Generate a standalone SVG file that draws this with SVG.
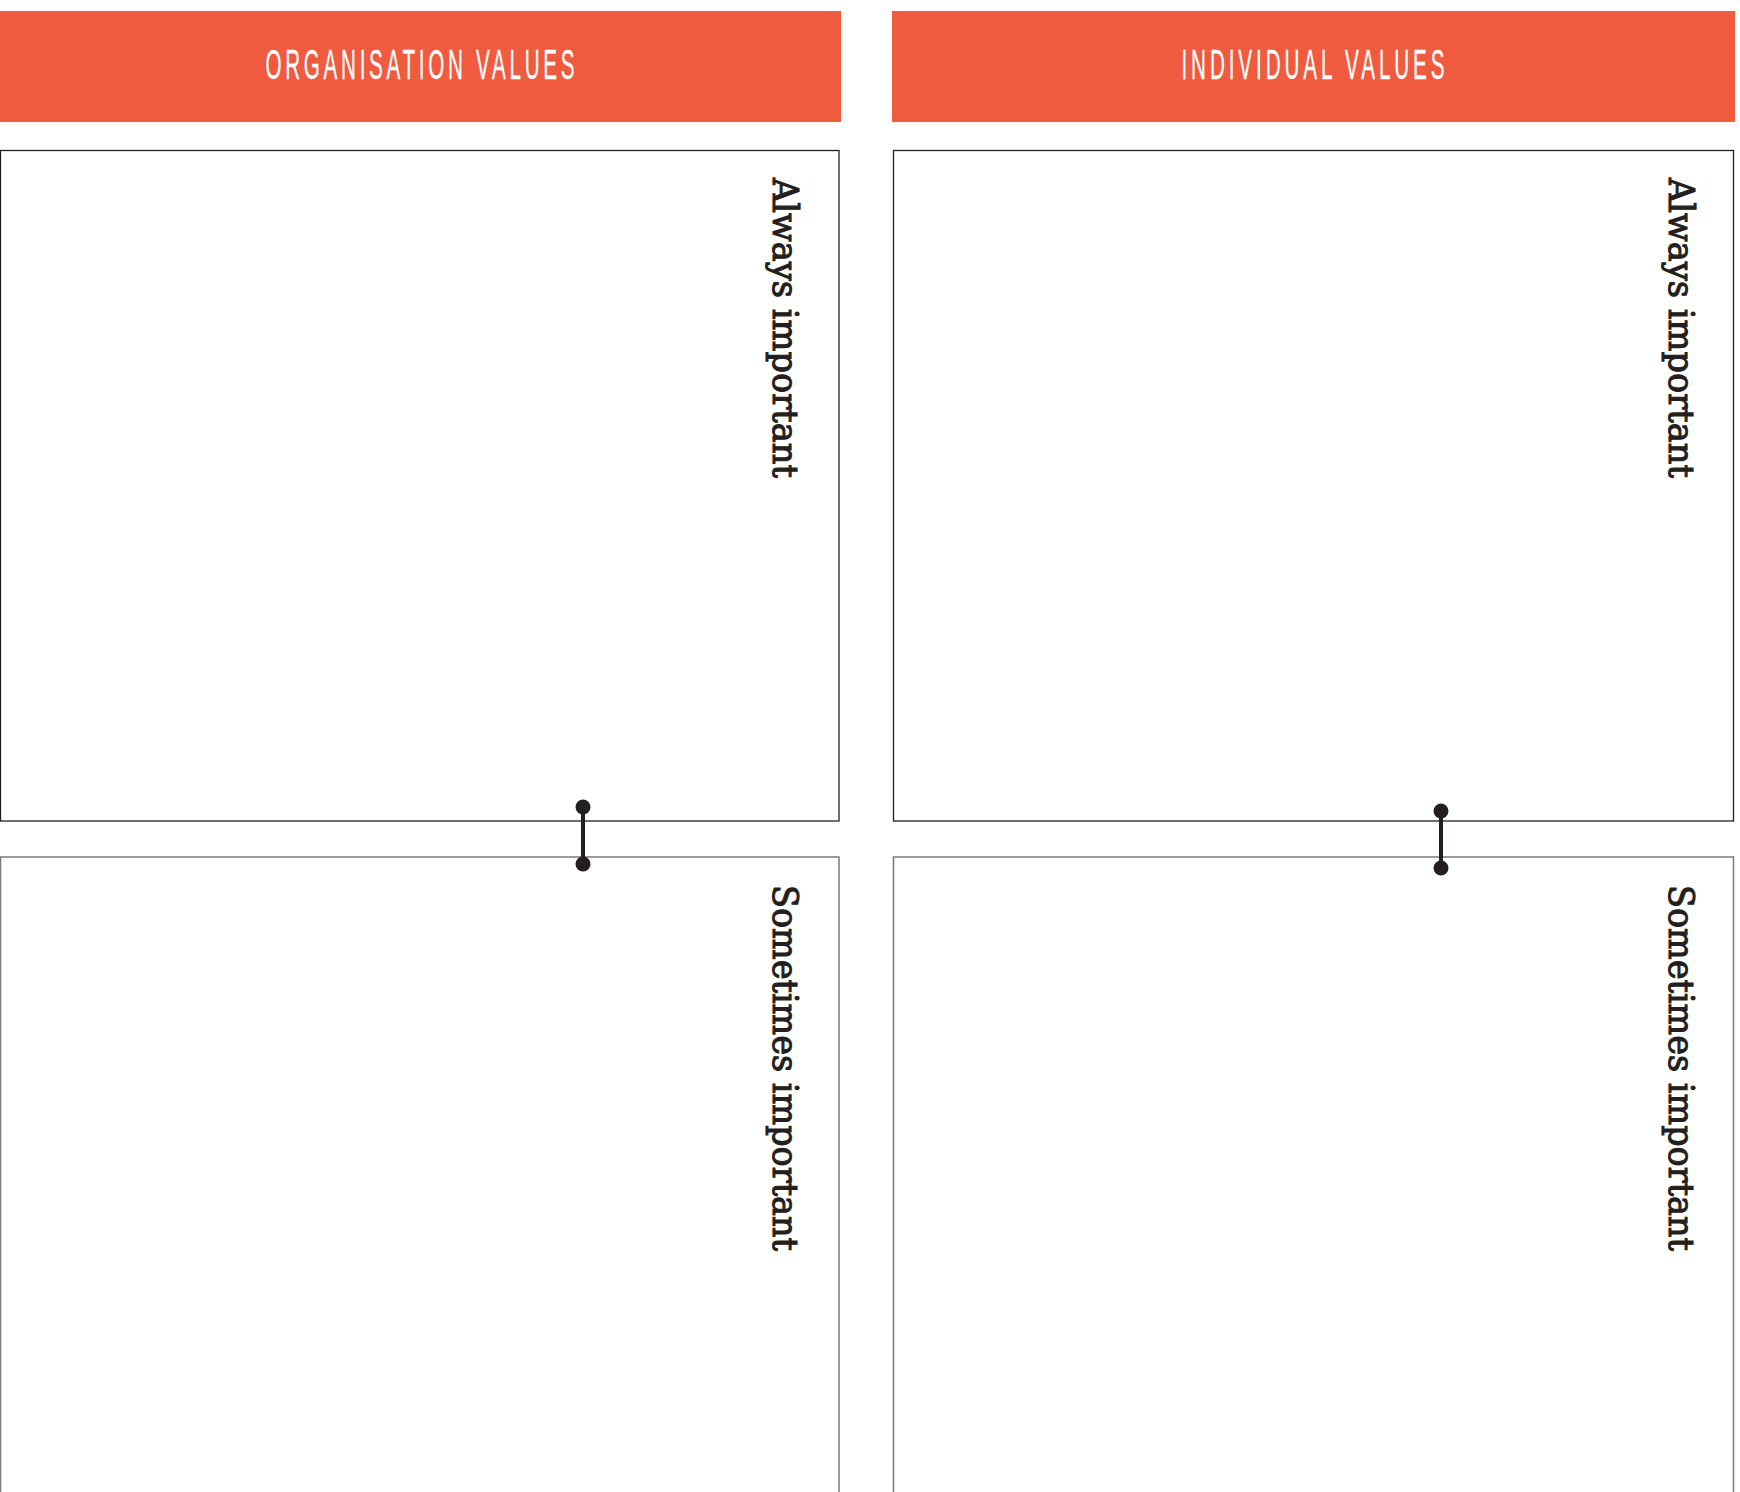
<svg xmlns="http://www.w3.org/2000/svg" width="1740" height="1492" viewBox="0 0 1740 1492">
<style>
.hdr{fill:#F05B40}
.htxt{fill:#fff;stroke:#fff;stroke-width:0.3;font-family:"Liberation Sans",Arial,sans-serif;font-size:43px;text-anchor:middle}
.box{fill:#fff;stroke:#231F20;stroke-width:1.3}
.box2{fill:#fff;stroke:#7a7a7a;stroke-width:1.5}
.lbl{fill:#231F20;stroke:#231F20;stroke-width:1.1;font-family:"DejaVu Serif",serif;font-size:36px}
.conn{stroke:#231F20;stroke-width:4;fill:none}
.dot{fill:#231F20}
</style>
<rect width="1740" height="1492" fill="#fff"/>
<g id="org-header">
<rect class="hdr" x="0" y="11" width="841" height="111"/>
<text class="htxt" transform="translate(420,79) scale(0.48,1)" x="0" y="0" textLength="644" lengthAdjust="spacing">ORGANISATION VALUES</text>
</g>
<g id="ind-header">
<rect class="hdr" x="892" y="11" width="843" height="111"/>
<text class="htxt" transform="translate(1313,79) scale(0.48,1)" x="0" y="0" textLength="548" lengthAdjust="spacing">INDIVIDUAL VALUES</text>
</g>
<g id="org-always">
<rect class="box" x="0.5" y="150.5" width="838.5" height="670.5"/>
<text class="lbl" transform="translate(773,178) rotate(90)" textLength="300" lengthAdjust="spacingAndGlyphs">Always important</text>
</g>
<g id="org-sometimes">
<rect class="box2" x="0.5" y="857" width="838.5" height="700"/>
<text class="lbl" transform="translate(773,885) rotate(90)" textLength="366" lengthAdjust="spacingAndGlyphs">Sometimes important</text>
</g>
<g id="ind-always">
<rect class="box" x="893.5" y="150.5" width="840" height="670.5"/>
<text class="lbl" transform="translate(1669,178) rotate(90)" textLength="300" lengthAdjust="spacingAndGlyphs">Always important</text>
</g>
<g id="ind-sometimes">
<rect class="box2" x="893.5" y="857" width="840" height="700"/>
<text class="lbl" transform="translate(1669,885) rotate(90)" textLength="366" lengthAdjust="spacingAndGlyphs">Sometimes important</text>
</g>
<g id="connectors">
<line class="conn" x1="583" y1="807" x2="583" y2="864"/>
<circle class="dot" cx="583" cy="807" r="7.5"/>
<circle class="dot" cx="583" cy="864" r="7.5"/>
<line class="conn" x1="1441" y1="811" x2="1441" y2="868"/>
<circle class="dot" cx="1441" cy="811" r="7.5"/>
<circle class="dot" cx="1441" cy="868" r="7.5"/>
</g>
</svg>
